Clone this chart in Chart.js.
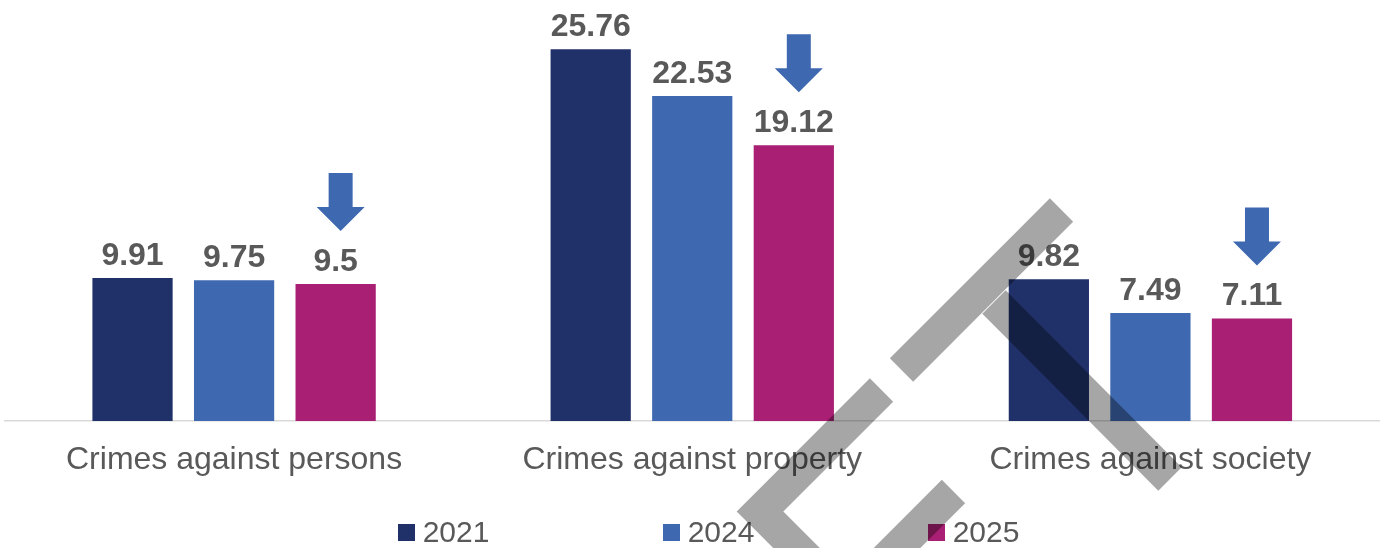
<!DOCTYPE html>
<html lang="en">
<head>
  <meta charset="UTF-8" />
  <title>Crimes per category</title>
  <style>
    * {
      box-sizing: border-box;
      margin: 0;
      padding: 0;
    }

    body {
      background: #fff;
      font-family: "Liberation Sans", Arial, sans-serif;
    }

    .wrap {
      position: relative;
      width: 1383px;
      height: 548px;
    }

    .legend {
      position: absolute;
      left: 311px;
      top: 517px;
      width: 795px;
      display: flex;
    }

    .legend-item {
      width: 265px;
      display: flex;
      justify-content: center;
      align-items: center;
      height: 30px;
      font-size: 30px;
      line-height: 30px;
      color: #595959;
    }

    .legend-item i {
      display: inline-block;
      width: 17px;
      height: 17px;
      margin-right: 8px;
    }

    .stamp {
      position: absolute;
      left: 0;
      top: 0;
      pointer-events: none;
    }
  </style>
</head>
<body>
  <div class="wrap">
    <canvas id="barChart"></canvas>
    <div class="legend" id="legend"></div>
    <!-- grey stamp lying over the picture -->
    <svg class="stamp" width="1383" height="548">
      <path d="M1061.5 210 L901.5 370 M994 302 L1170 479 M881.5 390 L760 511.5 L830 581.5 M953.5 491.5 L870 575"
            fill="none" stroke="#000" stroke-opacity="0.35" stroke-width="33" stroke-linejoin="miter" />
    </svg>
  </div>

  <script src="https://cdn.jsdelivr.net/npm/chart.js"></script>
  <script>
    const categories = ['Crimes against persons', 'Crimes against property', 'Crimes against society'];
    const years = ['2021', '2024', '2025'];
    const values2021 = [9.91, 25.76, 9.82];
    const values2024 = [9.75, 22.53, 7.49];
    const values2025 = [9.5, 19.12, 7.11];
    const colors = ['#203069', '#3e68b0', '#a81f73'];
    const arrowColor = '#3e68b0';

    const fontFamily = '"Liberation Sans", Arial, sans-serif';

    // value above every bar
    const barLabels = {
      id: 'barLabels',
      afterDatasetsDraw(chart) {
        const ctx = chart.ctx;
        ctx.save();
        ctx.font = 'bold 32px ' + fontFamily;
        ctx.fillStyle = '#595959';
        ctx.textAlign = 'center';
        ctx.textBaseline = 'alphabetic';
        chart.data.datasets.forEach((ds, i) => {
          chart.getDatasetMeta(i).data.forEach((bar, j) => {
            ctx.fillText(String(ds.data[j]), bar.x, bar.y - 13);
          });
        });
        ctx.restore();
      }
    };

    // down arrows over the 2025 bars
    const downArrows = {
      id: 'downArrows',
      afterDatasetsDraw(chart) {
        const ctx = chart.ctx;
        const meta = chart.getDatasetMeta(2);
        ctx.save();
        ctx.fillStyle = arrowColor;
        meta.data.forEach(bar => {
          const cx = bar.x + 5;
          const tip = bar.y - 53;
          ctx.beginPath();
          ctx.moveTo(cx - 12, tip - 58);
          ctx.lineTo(cx + 12, tip - 58);
          ctx.lineTo(cx + 12, tip - 24);
          ctx.lineTo(cx + 24, tip - 24);
          ctx.lineTo(cx, tip);
          ctx.lineTo(cx - 24, tip - 24);
          ctx.lineTo(cx - 12, tip - 24);
          ctx.closePath();
          ctx.fill();
        });
        ctx.restore();
      }
    };

    const chart = new Chart(document.getElementById('barChart'), {
      type: 'bar',
      data: {
        labels: categories,
        datasets: [
          { label: years[0], data: values2021, backgroundColor: colors[0] },
          { label: years[1], data: values2024, backgroundColor: colors[1] },
          { label: years[2], data: values2025, backgroundColor: colors[2] }
        ]
      },
      options: {
        responsive: true,
        maintainAspectRatio: false,
        animation: false,
        categoryPercentage: 0.665,
        barPercentage: 0.79,
        layout: {
          padding: { top: 17, left: 5, right: 3.5, bottom: 48.6 }
        },
        plugins: {
          legend: { display: false },
          tooltip: { enabled: false }
        },
        scales: {
          x: {
            grid: { display: false, drawTicks: false },
            border: { display: true, color: '#d9d9d9', width: 1.5 },
            ticks: {
              padding: 20,
              color: '#595959',
              font: { family: fontFamily, size: 32 }
            }
          },
          y: {
            display: false,
            min: 0,
            max: 28
          }
        }
      },
      plugins: [barLabels, downArrows]
    });

    // legend built by hand so the entries sit in equal slots
    const legend = document.getElementById('legend');
    years.forEach((y, i) => {
      const item = document.createElement('div');
      item.className = 'legend-item';
      item.innerHTML = '<i style="background:' + colors[i] + '"></i><span>' + y + '</span>';
      legend.appendChild(item);
    });
  </script>
</body>
</html>
